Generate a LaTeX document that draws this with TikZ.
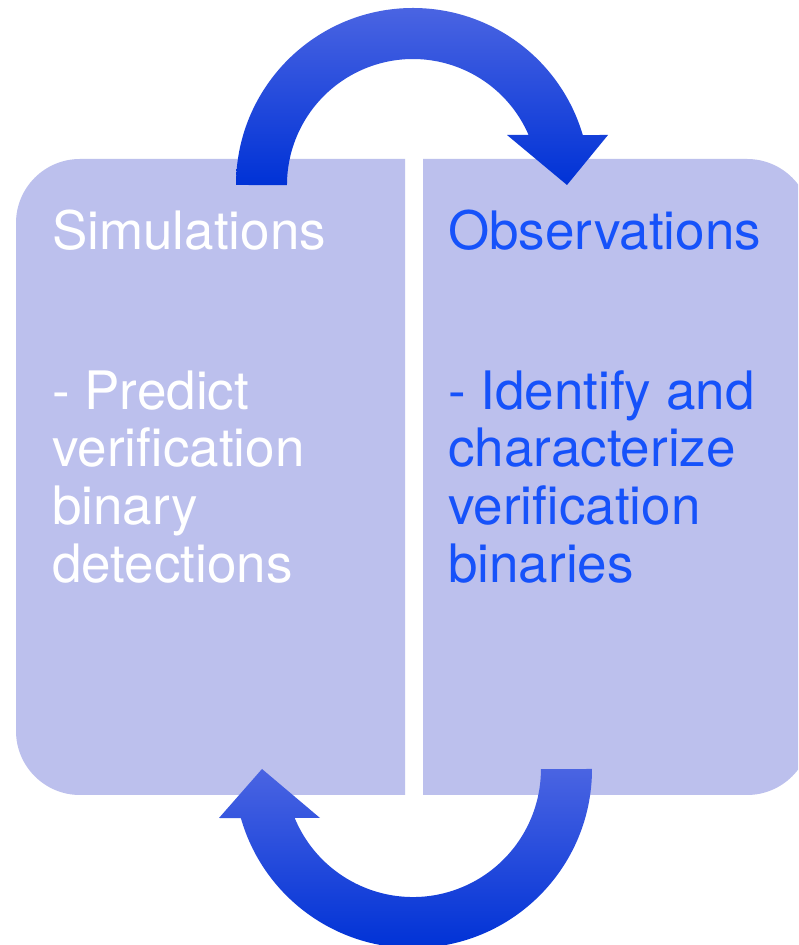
\documentclass[tikz,border=0pt]{standalone}
\usepackage{fontspec}
\setmainfont{TeX Gyre Heros}
\definecolor{panelc}{RGB}{188,192,237}
\definecolor{textblue}{RGB}{22,82,250}
\definecolor{arrtop}{RGB}{74,100,226}
\definecolor{arrbot}{RGB}{0,50,214}
\tikzset{
  panel/.style={fill=panelc},
  bigarrow/.style={top color=arrtop, bottom color=arrbot, draw=none},
  lbl/.style={anchor=base west, inner sep=0pt, font=\fontsize{53}{58}\selectfont},
}
\begin{document}
\begin{tikzpicture}[x=1pt,y=1pt]
\clip (0,0) rectangle (798,945);
\fill[white] (0,0) rectangle (798,945);
% panels
\fill[panel] (405,786) -- (80,786) arc[start angle=90, end angle=180, radius=64]
  -- (16,214) arc[start angle=180, end angle=270, radius=64] -- (405,150) -- cycle;
\fill[panel] (423,786) -- (747,786) arc[start angle=90, end angle=0, radius=64]
  -- (811,214) arc[start angle=0, end angle=-90, radius=64] -- (423,150) -- cycle;
% top arrow
\shade[bigarrow] (236,760) arc[start angle=180, end angle=16.4, radius=177]
  -- (608,810) -- (567,760) -- (507,810) -- (528.6,810)
  arc[start angle=23.4, end angle=180, radius=126] -- cycle;
% bottom arrow
\shade[bigarrow] (592,176) arc[start angle=0, end angle=-164.1, radius=179]
  -- (219,127) -- (262,176) -- (320,127) -- (294.7,127)
  arc[start angle=-157.5, end angle=0, radius=128] -- cycle;
% left text
\node[lbl, text=white] (simt) at (52,695) {Simulations};
\node[lbl, text=white] (s1) at (52,535) {- Predict};
\node[lbl, text=white] (s2) at (52,478) {verification};
\node[lbl, text=white] (s3) at (52,420) {binary};
\node[lbl, text=white] (s4) at (52,362) {detections};
% right text
\node[lbl, text=textblue] (obst) at (448,695) {Observations};
\node[lbl, text=textblue] (o1) at (448,535) {- Identify and};
\node[lbl, text=textblue] (o2) at (448,478) {characterize};
\node[lbl, text=textblue] (o3) at (448,420) {verification};
\node[lbl, text=textblue] (o4) at (448,362) {binaries};
\end{tikzpicture}
\end{document}
